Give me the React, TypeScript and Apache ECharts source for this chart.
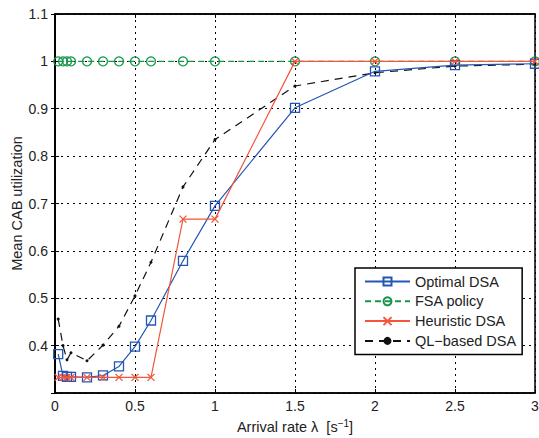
import React, { useEffect, useRef } from "react";
import * as echarts from "echarts";

const xValues = [0.02, 0.05, 0.075, 0.1, 0.2, 0.3, 0.4, 0.5, 0.6, 0.8, 1.0, 1.5, 2.0, 2.5, 3.0];
const optimalDSA = [0.382, 0.336, 0.334, 0.334, 0.333, 0.337, 0.356, 0.398, 0.453, 0.579, 0.695, 0.902, 0.979, 0.992, 0.995];
const fsaPolicy = [1, 1, 1, 1, 1, 1, 1, 1, 1, 1, 1, 1, 1, 1, 1];
const heuristicDSA = [0.333, 0.333, 0.333, 0.333, 0.333, 0.333, 0.333, 0.333, 0.333, 0.667, 0.667, 1, 1, 1, 1];
const qlDSA = [0.456, 0.40, 0.37, 0.385, 0.368, 0.401, 0.441, 0.505, 0.576, 0.735, 0.835, 0.948, 0.976, 0.99, 0.994];

const seriesNames = ["Optimal DSA", "FSA policy", "Heuristic DSA", "QL\u2212based DSA"];
const xTicks = [0, 0.5, 1, 1.5, 2, 2.5, 3];

const pair = (ys: number[]) => xValues.map((x, i) => [x, ys[i]]);

const FONT = "'Liberation Sans', Arial, Helvetica, sans-serif";

export default function App() {
  const ref = useRef<HTMLDivElement>(null);
  useEffect(() => {
    if (!ref.current) return;
    const chart = echarts.init(ref.current, undefined, { renderer: "svg" });
    const blue = "#2456b4";
    const green = "#17964a";
    const red = "#f2553a";
    const black = "#111111";
    const axisCommon = {
      axisLine: { show: true, lineStyle: { color: "#000", width: 1.5 } },
      axisTick: { show: true, inside: true, length: 4, lineStyle: { color: "#000" } },
    };
    chart.setOption({
      animation: false,
      backgroundColor: "#fff",
      grid: {
        left: 55,
        right: 4,
        top: 14,
        bottom: 45,
        show: true,
        borderColor: "#000",
        borderWidth: 1.5,
        backgroundColor: "transparent",
        containLabel: false,
        outerBoundsMode: "none",
      },
      legend: {
        left: 355,
        top: 268,
        orient: "vertical",
        data: seriesNames,
        itemWidth: 45,
        itemHeight: 10,
        itemGap: 4.8,
        padding: [6, 6, 6, 9],
        borderColor: "#000",
        borderWidth: 1.5,
        backgroundColor: "#fff",
        textStyle: { fontFamily: FONT, fontSize: 14.5, color: "#222" },
      },
      xAxis: [
        {
          type: "value",
          min: 0,
          max: 3,
          interval: 0.5,
          name: "Arrival rate \u03bb  [s{sup|\u22121}]",
          nameLocation: "middle",
          nameGap: 25,
          nameTextStyle: {
            fontFamily: FONT,
            fontSize: 14.5,
            color: "#222",
            rich: { sup: { fontSize: 10, verticalAlign: "top", padding: [0, 0, 8, 0], fontFamily: FONT, color: "#222" } },
          },
          ...axisCommon,
          axisLabel: {
            fontFamily: FONT,
            fontSize: 14,
            color: "#222",
            margin: 6,
            formatter: (v: number) => (xTicks.includes(v) ? String(v) : ""),
          },
          splitLine: { show: true, lineStyle: { color: "#000", type: [2, 4], width: 1 } },
        },
        {
          type: "value",
          position: "top",
          min: 0,
          max: 3,
          interval: 0.5,
          axisLine: { show: true, lineStyle: { color: "#000", width: 1.5 } },
          axisTick: { show: true, inside: true, length: 4, lineStyle: { color: "#000" } },
          axisLabel: { show: false },
          splitLine: { show: false },
        },
      ],
      yAxis: [
        {
          type: "value",
          min: 0.3,
          max: 1.1,
          interval: 0.1,
          name: "Mean CAB utilization",
          nameLocation: "middle",
          nameGap: 31,
          nameMoveOverlap: false,
          nameTextStyle: { fontFamily: FONT, fontSize: 14.5, color: "#222" },
          ...axisCommon,
          axisLabel: {
            fontFamily: FONT,
            fontSize: 14,
            color: "#222",
            margin: 7,
            showMinLabel: false,
            formatter: (v: number) => {
              const r = Math.round(v * 10) / 10;
              return r === 1 ? "1" : r.toFixed(1);
            },
          },
          splitLine: { show: true, lineStyle: { color: "#000", type: [2, 4], width: 1 } },
        },
        {
          type: "value",
          position: "right",
          min: 0.3,
          max: 1.1,
          interval: 0.1,
          axisLine: { show: true, lineStyle: { color: "#000", width: 1.5 } },
          axisTick: { show: true, inside: true, length: 4, lineStyle: { color: "#000" } },
          axisLabel: { show: false },
          splitLine: { show: false },
        },
      ],
      series: [
        {
          name: seriesNames[1],
          type: "line",
          data: pair(fsaPolicy),
          symbol: "circle",
          symbolSize: 9,
          showAllSymbol: true,
          lineStyle: { color: green, width: 1.2, type: [6, 4] },
          itemStyle: { color: "transparent", borderColor: green, borderWidth: 1.3 },
          z: 3,
        },
        {
          name: seriesNames[3],
          type: "line",
          data: pair(qlDSA),
          symbol: "circle",
          symbolSize: 3,
          showAllSymbol: true,
          lineStyle: { color: black, width: 1.2, type: [8, 6] },
          itemStyle: { color: black, borderColor: black, borderWidth: 0 },
          z: 4,
        },
        {
          name: seriesNames[0],
          type: "line",
          data: pair(optimalDSA),
          symbol: "rect",
          symbolSize: 9,
          showAllSymbol: true,
          lineStyle: { color: blue, width: 1.2 },
          itemStyle: { color: "transparent", borderColor: blue, borderWidth: 1.3 },
          z: 5,
        },
        {
          name: seriesNames[2],
          type: "line",
          data: pair(heuristicDSA),
          symbol: "path://M0,0L10,10M10,0L0,10",
          symbolSize: 7,
          showAllSymbol: true,
          lineStyle: { color: red, width: 1.2 },
          itemStyle: { color: "transparent", borderColor: red, borderWidth: 1.3 },
          z: 6,
        },
      ],
    });
    return () => chart.dispose();
  }, []);
  return <div ref={ref} style={{ position: "fixed", left: 0, top: 0, width: 539, height: 438, background: "#fff" }} />;
}
